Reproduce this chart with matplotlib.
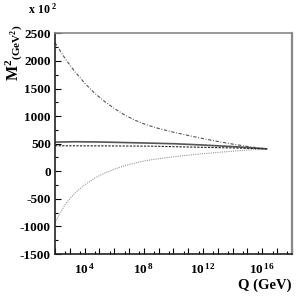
import matplotlib
matplotlib.use("Agg")
import matplotlib.pyplot as plt
import numpy as np
from matplotlib.ticker import FixedLocator, FuncFormatter

plt.rcParams['font.family'] = 'Liberation Serif'
plt.rcParams['font.weight'] = 'bold'
plt.rcParams['mathtext.fontset'] = 'custom'
plt.rcParams['mathtext.rm'] = 'Liberation Serif:bold'
plt.rcParams['mathtext.bf'] = 'Liberation Serif:bold'
plt.rcParams['mathtext.it'] = 'Liberation Serif:bold'

# log10(Q/GeV) and M^2 in units of 10^2 GeV^2
q_dashdot = [2.0, 2.68, 3.35, 4.03, 4.70, 5.38, 6.05, 6.73, 7.41, 8.08, 9.0, 10.0, 11.0, 12.0, 13.0, 14.0, 15.0, 16.0, 16.30]
m_dashdot = [2330, 2042, 1801, 1589, 1408, 1258, 1130, 1016, 924, 851, 775, 708, 648, 592, 540, 492, 450, 414, 406]

q_dotted = [2.0, 2.68, 3.35, 4.03, 4.70, 5.38, 6.05, 6.73, 7.41, 8.08, 9.0, 10.0, 11.0, 12.0, 13.0, 14.0, 15.0, 16.0, 16.30]
m_dotted = [-925, -603, -391, -241, -120, -29, 43, 103, 150, 190, 228, 262, 292, 318, 342, 364, 384, 400, 406]

q_solid = [2.0, 3.35, 5.04, 6.73, 8.42, 10.11, 11.80, 14.15, 16.30]
m_solid = [528, 535, 530, 520, 510, 498, 478, 445, 406]

q_dashed = [2.0, 5.04, 8.42, 10.11, 11.80, 14.15, 16.30]
m_dashed = [462, 460, 455, 445, 435, 422, 406]

y_ticks = [-1500, -1000, -500, 0, 500, 1000, 1500, 2000, 2500]
label_decades = [4, 8, 12, 16]

fig = plt.figure(figsize=(2.96, 2.99), dpi=100)
ax = fig.add_axes([0.186, 0.1505, 0.80, 0.738])

ax.plot(10.0 ** np.array(q_dashdot), m_dashdot, color='#555555', lw=0.8,
        linestyle=(0, (3, 1.5, 0.8, 1.5)))
ax.plot(10.0 ** np.array(q_dotted), m_dotted, color='#999999', lw=0.8,
        linestyle=(0, (1, 1)))
ax.plot(10.0 ** np.array(q_solid), m_solid, color='#555555', lw=1.2)
ax.plot(10.0 ** np.array(q_dashed), m_dashed, color='#222222', lw=0.8,
        linestyle=(0, (2, 1.2)))

ax.set_xscale('log')
ax.set_xlim(1e2, 10 ** 18.0)
ax.set_ylim(-1500, 2500)

ax.xaxis.set_major_locator(FixedLocator([10.0 ** n for n in range(2, 19)]))
ax.xaxis.set_minor_locator(FixedLocator([5 * 10.0 ** n for n in range(2, 18)]))
ax.xaxis.set_major_formatter(FuncFormatter(
    lambda v, p: r'$10^{\,%d}$' % round(np.log10(v)) if round(np.log10(v)) in label_decades else ''))
ax.set_yticks(y_ticks)
ax.set_yticklabels([str(t) for t in y_ticks], fontsize=9.5, fontweight='bold')
ax.set_yticks(np.arange(-1500, 2501, 250), minor=True)

ax.tick_params(which='both', direction='in', top=False, right=False, pad=3)
ax.tick_params(axis='x', labelsize=9.5, pad=6)
ax.tick_params(which='major', length=4, width=0.8)
ax.tick_params(which='minor', length=2.5, width=0.8)

for side in ['left', 'bottom']:
    ax.spines[side].set_linewidth(1.2)
    ax.spines[side].set_color('#222222')
ax.spines['top'].set_color('#888888')
ax.spines['top'].set_linewidth(1.2)
ax.spines['right'].set_color('#888888')
ax.spines['right'].set_linewidth(1.6)

fig.text(0.985, 0.035, 'Q (GeV)', ha='right', va='baseline', fontsize=10.5, fontweight='bold')
fig.text(0.048, 0.918, r'$\mathrm{M}^{2}{}_{\mathrm{(GeV^{2})}}$', rotation=90,
         ha='center', va='top', fontsize=11.5)
fig.text(0.093, 0.955, r'$\mathrm{x\ 10}^{\ 2}$', ha='left', va='baseline', fontsize=8.5)

fig.savefig('out.png', dpi=100)
